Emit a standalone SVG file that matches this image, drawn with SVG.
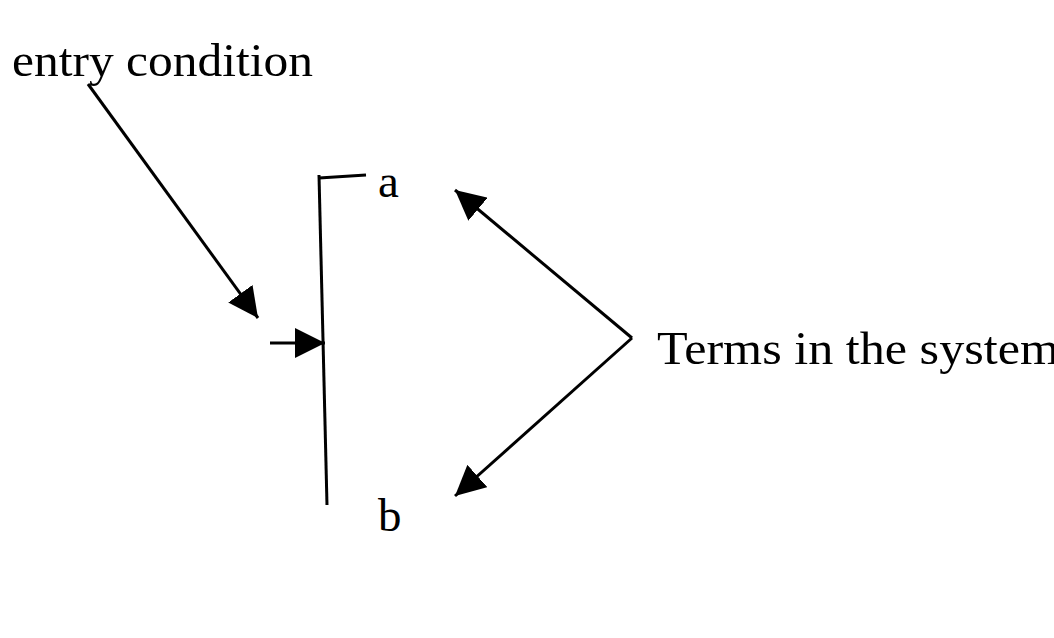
<svg xmlns="http://www.w3.org/2000/svg" width="1054" height="638" viewBox="0 0 1054 638">
<style>
text{font-family:"Liberation Serif","Times New Roman",serif;font-size:47px;fill:#000}
.l{stroke:#000;stroke-width:3;fill:none}
</style>
<defs>
<marker id="ahb" viewBox="0 0 10 10" refX="10" refY="5" markerWidth="10" markerHeight="10" orient="auto">
<path d="M0,0 L10,5 L0,10 z" fill="#000"/>
</marker>
</defs>
<rect width="1054" height="638" fill="#fff"/>
<g id="entry"><text x="12" y="76" textLength="301" lengthAdjust="spacingAndGlyphs">entry condition</text></g>
<g id="bracket">
<path class="l" d="M319,175 L327,505"/>
<path class="l" d="M319,178 L366,175"/>
</g>
<g id="a"><text x="378" y="197">a</text></g>
<g id="b"><text x="378" y="531">b</text></g>
<g id="terms"><text x="657" y="364" textLength="402" lengthAdjust="spacingAndGlyphs">Terms in the system</text></g>
<g id="connectors">
<path class="l" d="M88,84 L258,318" marker-end="url(#ahb)"/>
<path class="l" d="M270,343 L325,343" marker-end="url(#ahb)"/>
<path class="l" d="M632,338 L455,190" marker-end="url(#ahb)"/>
<path class="l" d="M632,338 L455,496" marker-end="url(#ahb)"/>
</g>
</svg>
